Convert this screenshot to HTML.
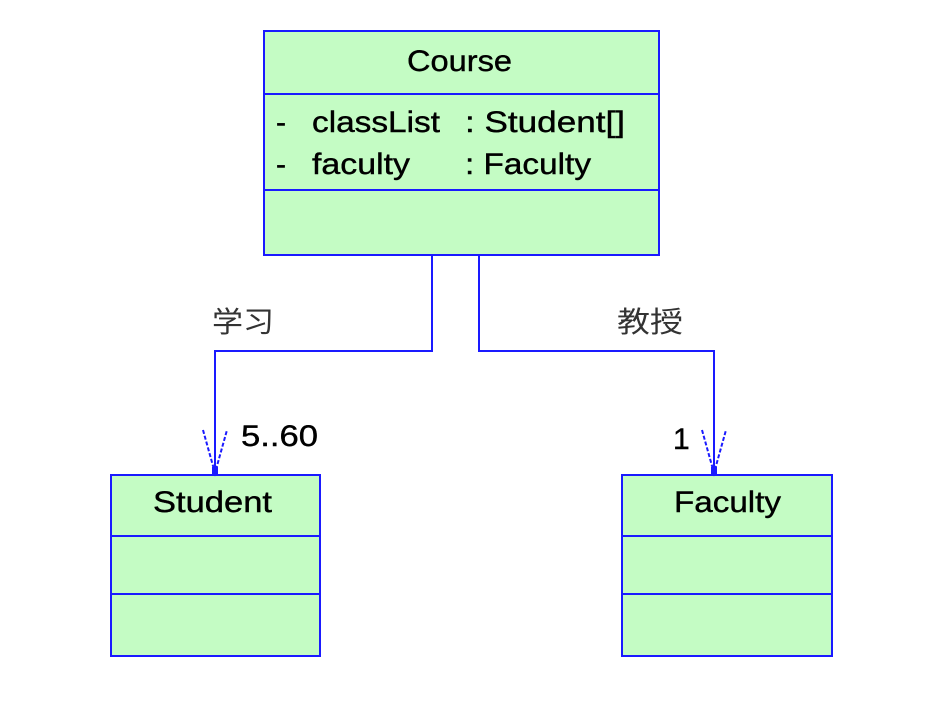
<!DOCTYPE html>
<html><head><meta charset="utf-8"><style>
html,body{margin:0;padding:0;background:#fff;width:945px;height:720px;overflow:hidden}
text{font-family:"Liberation Sans","Noto Sans CJK SC",sans-serif;fill:#000;stroke:#000;stroke-width:0.4}
</style></head><body>
<svg width="945" height="720" viewBox="0 0 945 720" xmlns="http://www.w3.org/2000/svg">
<g stroke="#1a1aff" stroke-width="2" fill="#c4fcc4">
<rect x="264" y="31" width="395" height="224"/>
<line x1="264" y1="94" x2="659" y2="94"/>
<line x1="264" y1="190" x2="659" y2="190"/>
<rect x="111" y="475" width="209" height="181"/>
<line x1="111" y1="536" x2="320" y2="536"/>
<line x1="111" y1="594" x2="320" y2="594"/>
<rect x="622" y="475" width="210" height="181"/>
<line x1="622" y1="536" x2="832" y2="536"/>
<line x1="622" y1="594" x2="832" y2="594"/>
</g>
<g stroke="#1a1aff" stroke-width="2" fill="none">
<polyline points="432,255 432,351 215,351 215,475"/>
<polyline points="479,255 479,351 714,351 714,475"/>
<polyline points="203,430 215,473 227,430" stroke-dasharray="4,2"/>
<polyline points="702,430 714,473 726,430" stroke-dasharray="4,2"/>
</g>
<rect x="212" y="467" width="6" height="7" fill="#1a1aff"/>
<rect x="711" y="467" width="6" height="7" fill="#1a1aff"/>
<text x="407" y="71" font-size="30" textLength="105" lengthAdjust="spacingAndGlyphs">Course</text>
<text x="276" y="132" font-size="30">-</text>
<text x="312" y="132" font-size="30" textLength="128" lengthAdjust="spacingAndGlyphs">classList</text>
<text x="465" y="132" font-size="30" textLength="160" lengthAdjust="spacingAndGlyphs">: Student[]</text>
<text x="276" y="174" font-size="30">-</text>
<text x="312" y="174" font-size="30" textLength="98" lengthAdjust="spacingAndGlyphs">faculty</text>
<text x="465" y="174" font-size="30" textLength="126" lengthAdjust="spacingAndGlyphs">: Faculty</text>
<text x="153" y="512" font-size="30" textLength="119" lengthAdjust="spacingAndGlyphs">Student</text>
<text x="674" y="512" font-size="30" textLength="107" lengthAdjust="spacingAndGlyphs">Faculty</text>
<text x="241" y="446" font-size="30" textLength="77" lengthAdjust="spacingAndGlyphs">5..60</text>
<text x="673" y="449" font-size="30">1</text>
<text x="212" y="332" font-size="29" textLength="62" lengthAdjust="spacingAndGlyphs" style="fill:#333;stroke:none">学习</text>
<text x="617" y="332" font-size="29" textLength="66" lengthAdjust="spacingAndGlyphs" style="fill:#333;stroke:none">教授</text>
</svg>
</body></html>
